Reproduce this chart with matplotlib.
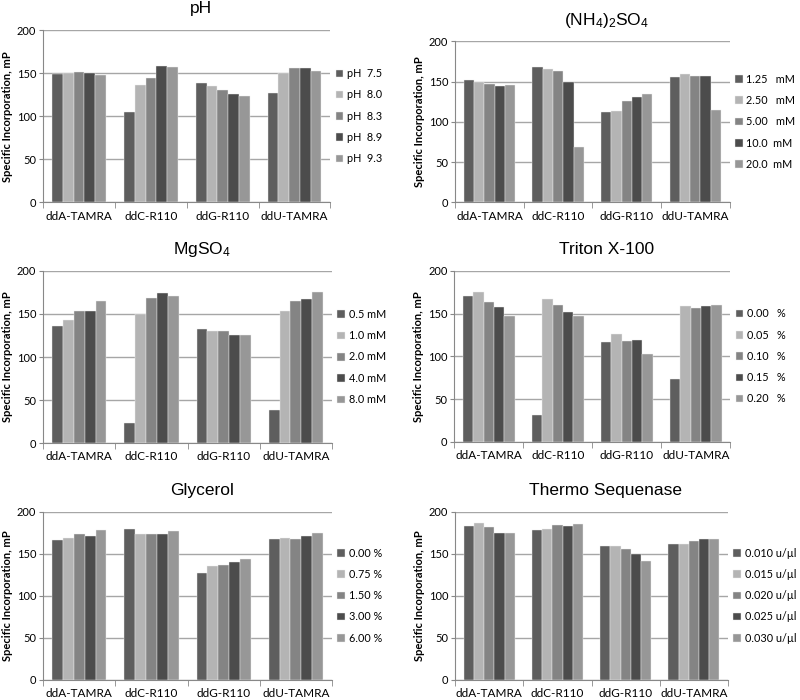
import matplotlib
matplotlib.use("Agg")
import matplotlib.pyplot as plt
import numpy as np

plt.rcParams["font.family"] = ["Lato", "DejaVu Sans"]
plt.rcParams["mathtext.fontset"] = "custom"
plt.rcParams["mathtext.rm"] = "Liberation Sans"
plt.rcParams["mathtext.default"] = "regular"

# 蛍光ddNTP
categories = ["ddA-TAMRA", "ddC-R110", "ddG-R110", "ddU-TAMRA"]

# pH
ph_labels = ["pH  7.5", "pH  8.0", "pH  8.3", "pH  8.9", "pH  9.3"]
ph_values = [
    [149, 105, 138, 127],
    [150, 136, 135, 150],
    [151, 144, 131, 156],
    [150, 158, 126, 156],
    [148, 157, 124, 152],
]

# (NH4)2SO4
nh4_labels = ["1.25   mM", "2.50   mM", "5.00   mM", "10.0  mM", "20.0  mM"]
nh4_values = [
    [152, 168, 112, 156],
    [150, 165, 113, 159],
    [147, 163, 126, 157],
    [145, 149, 131, 157],
    [146, 69, 135, 115],
]

# MgSO4
mg_labels = ["0.5 mM", "1.0 mM", "2.0 mM", "4.0 mM", "8.0 mM"]
mg_values = [
    [136, 23, 133, 38],
    [143, 150, 130, 153],
    [154, 168, 130, 165],
    [153, 174, 125, 167],
    [165, 171, 125, 176],
]

# Triton X-100
triton_labels = ["0.00   %", "0.05   %", "0.10   %", "0.15   %", "0.20   %"]
triton_values = [
    [171, 31, 117, 73],
    [175, 167, 126, 159],
    [164, 160, 118, 156],
    [158, 152, 119, 159],
    [147, 147, 103, 160],
]

# Glycerol
gly_labels = ["0.00 %", "0.75 %", "1.50 %", "3.00 %", "6.00 %"]
gly_values = [
    [166, 180, 127, 167],
    [169, 174, 135, 169],
    [173, 173, 137, 168],
    [171, 173, 140, 171],
    [178, 177, 144, 175],
]

# Thermo Sequenase
ts_labels = ["0.010 u/µl", "0.015 u/µl", "0.020 u/µl", "0.025 u/µl", "0.030 u/µl"]
ts_values = [
    [183, 178, 159, 161],
    [187, 180, 159, 162],
    [182, 184, 156, 165],
    [175, 183, 150, 168],
    [175, 185, 141, 167],
]

colors = ["#5e5e5e", "#b4b4b4", "#848484", "#4c4c4c", "#979797"]


def bar_panel(ax, title, labels, values):
    x = np.arange(len(categories))
    w = 0.15
    for i, (lab, vals) in enumerate(zip(labels, values)):
        ax.bar(x + (i - 2) * w, vals, width=w, color=colors[i], label=lab,
               edgecolor="#eeeeee", linewidth=0.3, zorder=3)

    ax.set_ylim(0, 200)
    ax.set_xlim(-0.5, 3.5)
    ax.set_yticks([0, 50, 100, 150, 200])
    ax.yaxis.grid(True, color="#a6a6a6", linewidth=1.0, zorder=0)
    ax.set_xticks(x)
    ax.set_xticklabels(categories, fontsize=8.5)
    ax.set_xticks(np.arange(-0.5, 4.0, 1.0), minor=True)
    ax.tick_params(axis="x", which="major", length=0, pad=6)
    ax.tick_params(axis="x", which="minor", length=4, color="#888888")
    ax.tick_params(axis="y", length=3, color="#888888", labelsize=8, pad=2)
    for s in ["top", "right"]:
        ax.spines[s].set_visible(False)
    for s in ["left", "bottom"]:
        ax.spines[s].set_color("#888888")
    ax.set_ylabel("Specific Incorporation, mP", fontsize=8, fontweight="bold",
                  labelpad=3)
    ax.set_title(title, fontsize=12.5, family="Liberation Sans", pad=12, x=0.55)
    ax.legend(loc="center left", bbox_to_anchor=(1.0, 0.5), frameon=False,
              fontsize=7.8, handlelength=0.7, handleheight=0.7,
              handletextpad=0.35, labelspacing=0.95, borderaxespad=0.3,
              borderpad=0.2)


fig = plt.figure(figsize=(8, 7), dpi=100)

ax1 = fig.add_axes([0.054, 0.711, 0.359, 0.246])
ax2 = fig.add_axes([0.569, 0.711, 0.343, 0.230])
ax3 = fig.add_axes([0.054, 0.367, 0.361, 0.246])
ax4 = fig.add_axes([0.568, 0.369, 0.345, 0.244])
ax5 = fig.add_axes([0.054, 0.029, 0.361, 0.240])
ax6 = fig.add_axes([0.569, 0.029, 0.341, 0.240])

bar_panel(ax1, "pH", ph_labels, ph_values)
bar_panel(ax2, "(NH$_4$)$_2$SO$_4$", nh4_labels, nh4_values)
bar_panel(ax3, "MgSO$_4$", mg_labels, mg_values)
bar_panel(ax4, "Triton X-100", triton_labels, triton_values)
bar_panel(ax5, "Glycerol", gly_labels, gly_values)
bar_panel(ax6, "Thermo Sequenase", ts_labels, ts_values)

fig.savefig("out.png", dpi=100)
